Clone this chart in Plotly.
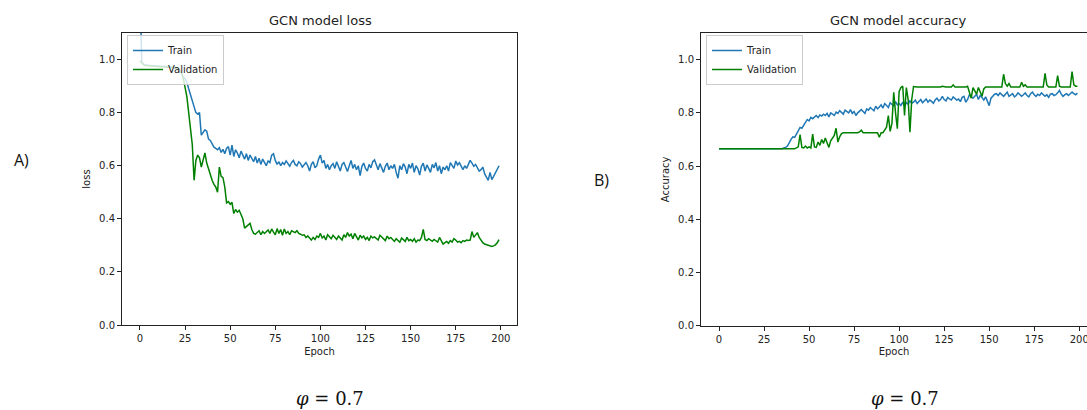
import plotly.graph_objects as go

epochs = list(range(200))

train_loss = [
    1.25, 0.99, 0.982, 0.980, 0.979, 0.978, 0.978, 0.977, 0.977, 0.976, 0.976, 0.975, 0.975, 0.975, 0.974, 0.974, 0.973, 0.973, 0.972, 0.972,
    0.970, 0.966, 0.960, 0.950, 0.935, 0.928, 0.915, 0.890, 0.865, 0.840, 0.815, 0.800, 0.795, 0.800, 0.715, 0.725, 0.735, 0.730, 0.700, 0.695,
    0.680, 0.670, 0.665, 0.660, 0.668, 0.650, 0.662, 0.645, 0.665, 0.672, 0.640, 0.678, 0.635, 0.660, 0.648, 0.630, 0.655, 0.640, 0.625, 0.645,
    0.620, 0.640, 0.625, 0.615, 0.635, 0.610, 0.628, 0.605, 0.625, 0.615, 0.600, 0.618, 0.612, 0.640, 0.645, 0.620, 0.605, 0.615, 0.600, 0.612,
    0.605, 0.618, 0.610, 0.598, 0.612, 0.620, 0.605, 0.600, 0.615, 0.608, 0.595, 0.603, 0.612, 0.600, 0.580, 0.605, 0.615, 0.592, 0.600, 0.625,
    0.640, 0.610, 0.620, 0.590, 0.605, 0.585, 0.600, 0.608, 0.590, 0.615, 0.600, 0.580, 0.605, 0.612, 0.595, 0.578, 0.600, 0.620, 0.590, 0.605,
    0.585, 0.600, 0.563, 0.598, 0.610, 0.590, 0.580, 0.605, 0.592, 0.615, 0.622, 0.600, 0.585, 0.608, 0.590, 0.575, 0.598, 0.610, 0.585, 0.600,
    0.590, 0.605, 0.575, 0.553, 0.600, 0.585, 0.608, 0.595, 0.570, 0.605, 0.590, 0.610, 0.575, 0.600, 0.588, 0.565, 0.598, 0.610, 0.580, 0.603,
    0.590, 0.575, 0.605, 0.592, 0.612, 0.580, 0.600, 0.570, 0.595, 0.585, 0.600, 0.580, 0.612, 0.598, 0.590, 0.618, 0.603, 0.612, 0.595, 0.585,
    0.600, 0.590, 0.605, 0.620, 0.610, 0.598, 0.605, 0.595, 0.580, 0.585, 0.595, 0.570, 0.560, 0.545, 0.575, 0.548, 0.560, 0.575, 0.590, 0.600,
]

val_loss = [
    0.995, 0.985, 0.980, 0.978, 0.977, 0.976, 0.976, 0.975, 0.975, 0.974, 0.974, 0.973, 0.973, 0.972, 0.972, 0.971, 0.971, 0.970, 0.970, 0.969,
    0.968, 0.965, 0.958, 0.948, 0.930, 0.900, 0.860, 0.800, 0.745, 0.680, 0.545, 0.620, 0.640, 0.630, 0.595, 0.625, 0.648, 0.610, 0.585, 0.565,
    0.545, 0.530, 0.520, 0.500, 0.595, 0.560, 0.555, 0.520, 0.460, 0.465, 0.455, 0.462, 0.420, 0.435, 0.425, 0.432, 0.418, 0.400, 0.365, 0.370,
    0.375, 0.383, 0.360, 0.345, 0.342, 0.348, 0.355, 0.340, 0.352, 0.345, 0.350, 0.358, 0.345, 0.362, 0.350, 0.340, 0.363, 0.345, 0.360, 0.338,
    0.362, 0.345, 0.352, 0.340, 0.355, 0.350, 0.348, 0.355, 0.345, 0.342, 0.338, 0.340, 0.330, 0.335, 0.325, 0.320, 0.330, 0.322, 0.335, 0.330,
    0.345, 0.328, 0.335, 0.320, 0.340, 0.332, 0.325, 0.338, 0.330, 0.322, 0.335, 0.328, 0.320, 0.340, 0.330, 0.348, 0.335, 0.342, 0.325, 0.345,
    0.330, 0.320, 0.338, 0.328, 0.335, 0.322, 0.330, 0.318, 0.335, 0.328, 0.332, 0.325, 0.320, 0.338, 0.330, 0.325, 0.318, 0.335, 0.325, 0.330,
    0.322, 0.315, 0.325, 0.318, 0.312, 0.328, 0.320, 0.315, 0.330, 0.318, 0.322, 0.315, 0.325, 0.312, 0.320, 0.318, 0.330, 0.360, 0.322, 0.318,
    0.325, 0.320, 0.315, 0.322, 0.318, 0.312, 0.330, 0.315, 0.305, 0.310, 0.315, 0.308, 0.318, 0.312, 0.325, 0.320, 0.312, 0.315, 0.310, 0.318,
    0.315, 0.320, 0.318, 0.320, 0.352, 0.330, 0.340, 0.348, 0.330, 0.318, 0.310, 0.305, 0.302, 0.300, 0.298, 0.296, 0.298, 0.302, 0.310, 0.322,
]

train_acc = [
    0.665, 0.665, 0.665, 0.665, 0.665, 0.665, 0.665, 0.665, 0.665, 0.665, 0.665, 0.665, 0.665, 0.665, 0.665, 0.665, 0.665, 0.665, 0.665, 0.665,
    0.665, 0.665, 0.665, 0.665, 0.665, 0.665, 0.665, 0.665, 0.665, 0.665, 0.665, 0.665, 0.665, 0.665, 0.665, 0.665, 0.668, 0.670, 0.675, 0.690,
    0.700, 0.710, 0.708, 0.720, 0.735, 0.745, 0.742, 0.755, 0.765, 0.775, 0.770, 0.783, 0.778, 0.785, 0.790, 0.782, 0.792, 0.788, 0.795, 0.790,
    0.798, 0.785, 0.800, 0.795, 0.790, 0.803, 0.798, 0.808, 0.800, 0.795, 0.810, 0.805, 0.800, 0.812, 0.798, 0.805, 0.790, 0.800, 0.808, 0.812,
    0.805, 0.798, 0.815, 0.810, 0.820, 0.812, 0.808, 0.825, 0.815, 0.822, 0.830, 0.818, 0.835, 0.828, 0.820, 0.838, 0.830, 0.826, 0.842, 0.830,
    0.835, 0.828, 0.840, 0.825, 0.838, 0.832, 0.845, 0.836, 0.840, 0.848, 0.835, 0.842, 0.850, 0.838, 0.845, 0.852, 0.840, 0.848, 0.843, 0.836,
    0.848, 0.855, 0.845, 0.850, 0.862, 0.850, 0.845, 0.858, 0.852, 0.848, 0.860, 0.855, 0.848, 0.852, 0.842, 0.858, 0.862, 0.840, 0.850, 0.868,
    0.860, 0.855, 0.862, 0.870, 0.850, 0.865, 0.858, 0.848, 0.860, 0.840, 0.827, 0.855, 0.862, 0.870, 0.872, 0.865, 0.875, 0.868, 0.862, 0.870,
    0.878, 0.862, 0.868, 0.872, 0.860, 0.865, 0.875, 0.870, 0.862, 0.868, 0.875, 0.865, 0.860, 0.872, 0.878, 0.868, 0.862, 0.870, 0.865, 0.875,
    0.870, 0.862, 0.868, 0.858, 0.870, 0.872, 0.865, 0.868, 0.875, 0.884, 0.870, 0.862, 0.868, 0.872, 0.865, 0.870, 0.878, 0.872, 0.868, 0.874,
]

val_acc = [
    0.665, 0.665, 0.665, 0.665, 0.665, 0.665, 0.665, 0.665, 0.665, 0.665, 0.665, 0.665, 0.665, 0.665, 0.665, 0.665, 0.665, 0.665, 0.665, 0.665,
    0.665, 0.665, 0.665, 0.665, 0.665, 0.665, 0.665, 0.665, 0.665, 0.665, 0.665, 0.665, 0.665, 0.665, 0.665, 0.665, 0.665, 0.665, 0.665, 0.665,
    0.665, 0.665, 0.665, 0.668, 0.672, 0.718, 0.670, 0.668, 0.675, 0.668, 0.672, 0.668, 0.720, 0.672, 0.670, 0.690, 0.678, 0.700, 0.685, 0.705,
    0.690, 0.670, 0.695, 0.705, 0.715, 0.742, 0.690, 0.710, 0.722, 0.725, 0.725, 0.725, 0.725, 0.725, 0.725, 0.725, 0.725, 0.725, 0.728, 0.735,
    0.725, 0.725, 0.725, 0.725, 0.725, 0.725, 0.725, 0.725, 0.725, 0.708, 0.725, 0.725, 0.735, 0.746, 0.790, 0.730, 0.760, 0.877, 0.800, 0.740,
    0.880, 0.895, 0.900, 0.790, 0.895, 0.850, 0.727, 0.850, 0.899, 0.897, 0.897, 0.897, 0.897, 0.897, 0.897, 0.897, 0.897, 0.897, 0.897, 0.897,
    0.897, 0.897, 0.897, 0.897, 0.900, 0.897, 0.897, 0.897, 0.897, 0.897, 0.905, 0.897, 0.897, 0.897, 0.897, 0.897, 0.897, 0.897, 0.900, 0.880,
    0.855, 0.895, 0.885, 0.870, 0.895, 0.880, 0.862, 0.890, 0.897, 0.897, 0.897, 0.897, 0.897, 0.897, 0.897, 0.897, 0.897, 0.897, 0.945, 0.910,
    0.900, 0.910, 0.897, 0.897, 0.897, 0.897, 0.897, 0.897, 0.915, 0.900, 0.905, 0.897, 0.897, 0.897, 0.897, 0.897, 0.897, 0.897, 0.897, 0.897,
    0.897, 0.948, 0.905, 0.897, 0.897, 0.897, 0.897, 0.897, 0.940, 0.900, 0.897, 0.897, 0.897, 0.897, 0.897, 0.897, 0.955, 0.905, 0.900, 0.900,
]

x_ticks = [0, 25, 50, 75, 100, 125, 150, 175, 200]
y_ticks = [0.0, 0.2, 0.4, 0.6, 0.8, 1.0]
y_tick_text = ["0.0", "0.2", "0.4", "0.6", "0.8", "1.0"]

W, H = 1087, 410
BLUE = "#1f77b4"
GREEN = "#008000"
FONT = "DejaVu Sans"

def px(x):
    return x / W

def py(y):
    return 1 - y / H

fig = go.Figure()
fig.add_trace(go.Scatter(x=epochs, y=train_loss, mode="lines", name="Train",
                         line=dict(color=BLUE, width=1.5), xaxis="x", yaxis="y", legend="legend"))
fig.add_trace(go.Scatter(x=epochs, y=val_loss, mode="lines", name="Validation",
                         line=dict(color=GREEN, width=1.5), xaxis="x", yaxis="y", legend="legend"))
fig.add_trace(go.Scatter(x=epochs, y=train_acc, mode="lines", name="Train",
                         line=dict(color=BLUE, width=1.5), xaxis="x2", yaxis="y2", legend="legend2"))
fig.add_trace(go.Scatter(x=epochs, y=val_acc, mode="lines", name="Validation",
                         line=dict(color=GREEN, width=1.5), xaxis="x2", yaxis="y2", legend="legend2"))

axis_common = dict(showgrid=False, zeroline=False, showline=True, linecolor="#222", linewidth=1,
                   ticks="outside", ticklen=4, tickcolor="#222", tickwidth=1, automargin=False,
                   ticklabeloverflow="allow",
                   tickfont=dict(family=FONT, size=10, color="#222"))

legend_common = dict(xanchor="left", yanchor="top",
                     bgcolor="rgba(255,255,255,0.8)", bordercolor="#ccc", borderwidth=1,
                     font=dict(family=FONT, size=10, color="#222"), itemwidth=30,
                     tracegroupgap=0)

fig.update_layout(
    width=W, height=H, margin=dict(l=0, r=0, t=0, b=0, autoexpand=False),
    paper_bgcolor="white", plot_bgcolor="white",
    font=dict(family=FONT, color="#222"),
    xaxis=dict(domain=[px(122), px(517)], range=[-9.95, 208.95], anchor="y",
               tickvals=x_ticks, mirror=True,
               title=dict(text="Epoch", font=dict(size=10), standoff=4), **axis_common),
    yaxis=dict(domain=[py(325), py(33)], range=[0, 1.1], anchor="x",
               tickvals=y_ticks, ticktext=y_tick_text, mirror=True,
               title=dict(text="loss", font=dict(size=10), standoff=6), **axis_common),
    xaxis2=dict(domain=[px(701), 1.0], range=[-10, 204.3], anchor="y2",
                tickvals=x_ticks, mirror=True,
                title=dict(text="Epoch", font=dict(size=10), standoff=4), **axis_common),
    yaxis2=dict(domain=[py(325.7), py(33)], range=[0, 1.1], anchor="x2",
                tickvals=y_ticks, ticktext=y_tick_text, mirror=False,
                title=dict(text="Accuracy", font=dict(size=10), standoff=6), **axis_common),
    legend=dict(x=px(127), y=py(35), **legend_common),
    legend2=dict(x=px(706), y=py(35), **legend_common),
    showlegend=True,
)

annotations = [
    dict(text="GCN model loss", x=px(320), y=py(20), font=dict(size=13)),
    dict(text="GCN model accuracy", x=px(898), y=py(20), font=dict(size=13)),
    dict(text="A)", x=px(21), y=py(160), font=dict(family="Open Sans", size=16, color="#111")),
    dict(text="B)", x=px(601), y=py(180), font=dict(family="Open Sans", size=16, color="#111")),
    dict(text="<i>φ</i> = 0.7", x=px(330), y=py(398), font=dict(family="DejaVu Serif", size=18, color="#111")),
    dict(text="<i>φ</i> = 0.7", x=px(905), y=py(398), font=dict(family="DejaVu Serif", size=18, color="#111")),
]
for a in annotations:
    a.update(xref="paper", yref="paper", showarrow=False, xanchor="center", yanchor="middle")
    a["font"].setdefault("family", FONT)
    a["font"].setdefault("color", "#222")
fig.update_layout(annotations=annotations)

fig.write_html("out.html", config={"displayModeBar": False},
               post_script="document.body.style.margin='0';document.body.style.overflow='hidden';")
